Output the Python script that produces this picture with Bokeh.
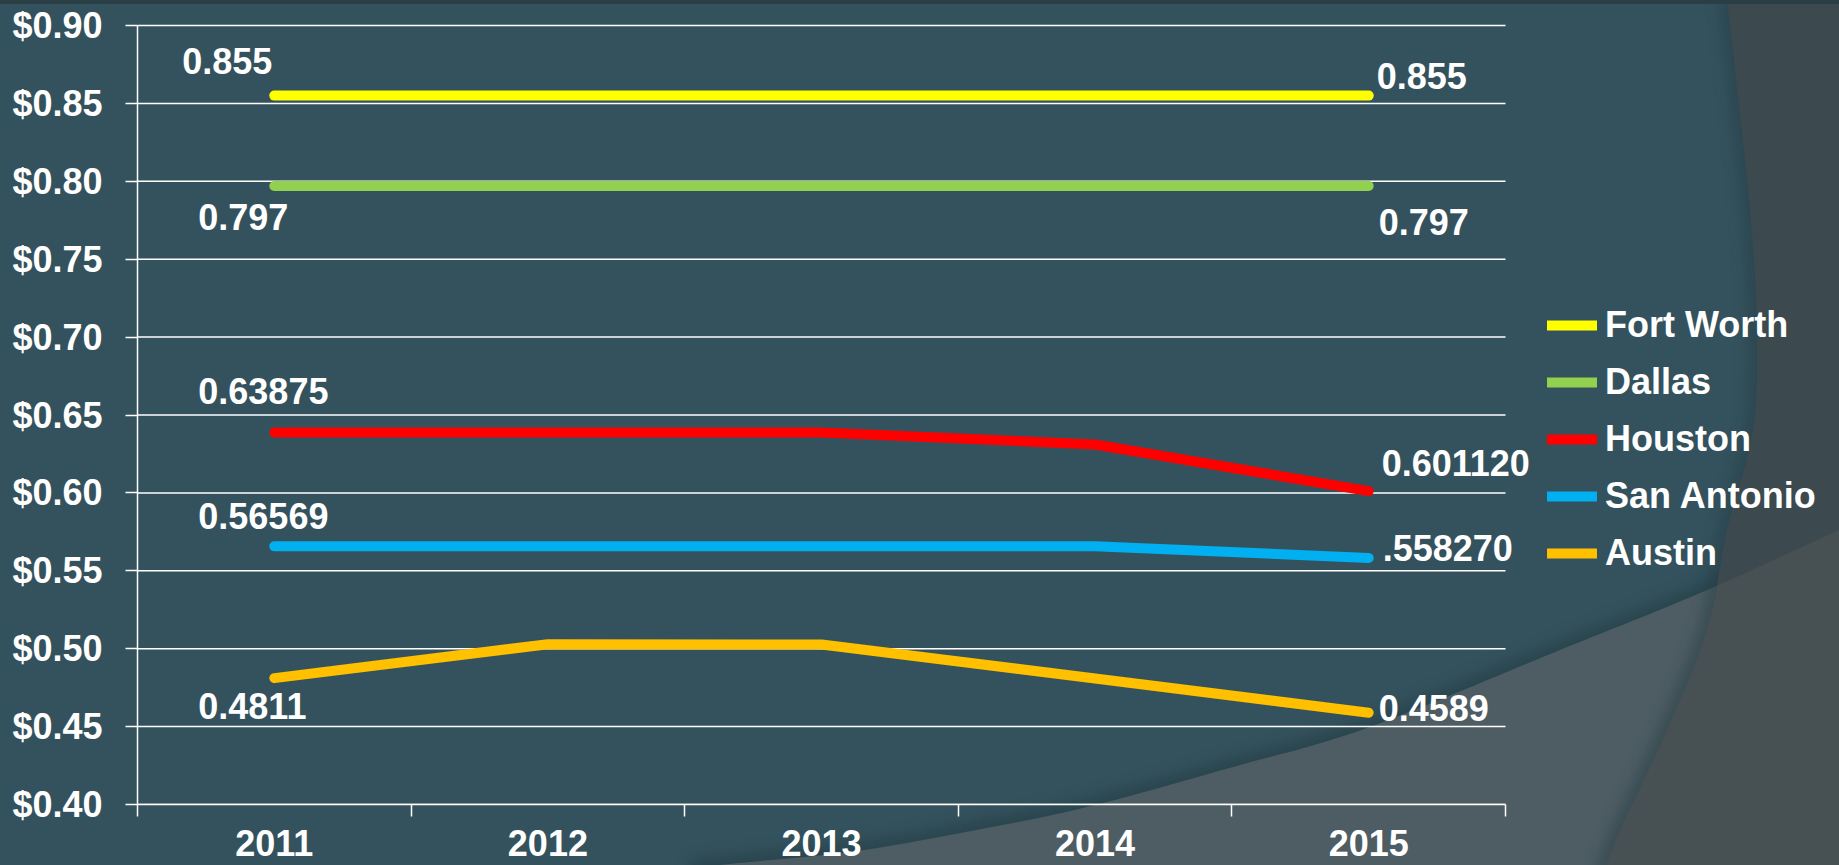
import urllib.parse
from bokeh.plotting import figure
from bokeh.models import (Range1d, FixedTicker, NumeralTickFormatter, LabelSet,
                          ColumnDataSource, GlobalInlineStyleSheet)
from bokeh.core.properties import value
from bokeh.embed import file_html
from bokeh.resources import INLINE

# ---------------- data ----------------
years = [2011, 2012, 2013, 2014, 2015]
x_labels = ["2011", "2012", "2013", "2014", "2015"]
fort_worth = [0.855, 0.855, 0.855, 0.855, 0.855]
dallas = [0.797, 0.797, 0.797, 0.797, 0.797]
houston = [0.63875, 0.63875, 0.63875, 0.63108, 0.60112]
san_antonio = [0.56569, 0.56569, 0.56569, 0.56569, 0.55827]
austin = [0.4811, 0.5029, 0.5027, 0.4809, 0.4589]
series_names = ["Fort Worth", "Dallas", "Houston", "San Antonio", "Austin"]
series_values = [fort_worth, dallas, houston, san_antonio, austin]
series_colors = ["#FFFF00", "#92D050", "#FF0000", "#00B0F0", "#FFC000"]
y_ticks = [0.40, 0.45, 0.50, 0.55, 0.60, 0.65, 0.70, 0.75, 0.80, 0.85, 0.90]
first_labels = ["0.855", "0.797", "0.63875", "0.56569", "0.4811"]
last_labels = ["0.855", "0.797", "0.601120", ".558270", "0.4589"]

# ---------------- layout (pixels) ----------------
W, H = 1839, 865
LEFT, TOP_GAP, BOTTOM = 137, 25, 61        # plot box: x 137..1505, y 25..804
PX_PER_YEAR, PX_PER_UNIT = 273.6, 1558.0
first_dx = [-92, -76, -76, -76, -76]
first_dy = [22, -44, 29, 17, -41]
last_dx = [8, 10, 13, 14, 10]
last_dy = [7, -49, 15, -3, -8]

FONT = "Liberation Sans"
WHITE = "#FFFFFF"

# ---------------- background decoration (page CSS) ----------------
def smooth(ps):
    d = f"M {ps[0][0]},{ps[0][1]}"
    for i in range(len(ps) - 1):
        p0 = ps[i - 1] if i > 0 else ps[i]
        p1, p2 = ps[i], ps[i + 1]
        p3 = ps[i + 2] if i + 2 < len(ps) else ps[i + 1]
        c1 = (p1[0] + (p2[0] - p0[0]) / 6, p1[1] + (p2[1] - p0[1]) / 6)
        c2 = (p2[0] - (p3[0] - p1[0]) / 6, p2[1] - (p3[1] - p1[1]) / 6)
        d += f" C {c1[0]:.1f},{c1[1]:.1f} {c2[0]:.1f},{c2[1]:.1f} {p2[0]},{p2[1]}"
    return d

curve = [(690, 868), (750, 862), (850, 852), (950, 835), (1083, 808), (1233, 767),
         (1367, 728), (1560, 650), (1700, 593), (1839, 530)]
right_edge = [(1727, 0), (1742, 133), (1752, 233), (1757, 333), (1753, 430),
              (1727, 530), (1707, 630), (1667, 730), (1620, 830), (1603, 875)]
c_path = smooth(curve)
r_path = smooth(right_edge)
light_d = c_path + " L 1845,875 L 690,875 Z"
right_d = r_path + " L 1845,875 L 1845,0 Z"
svg = (
    f'<svg xmlns="http://www.w3.org/2000/svg" width="{W}" height="{H}">'
    '<defs><filter id="b" x="-10%" y="-10%" width="120%" height="120%">'
    '<feGaussianBlur stdDeviation="7"/></filter>'
    f'<clipPath id="c"><path d="{light_d}"/></clipPath></defs>'
    f'<rect width="{W}" height="{H}" fill="#34525D"/>'
    f'<path d="{c_path}" fill="none" stroke="#223A43" stroke-width="18" opacity="0.55" filter="url(#b)"/>'
    f'<path d="{light_d}" fill="#4E5D63"/>'
    f'<path d="{r_path}" fill="none" stroke="#223A43" stroke-width="16" opacity="0.5" filter="url(#b)"/>'
    f'<path d="{right_d}" fill="#3C4A50"/>'
    f'<path d="{right_d}" fill="#475053" clip-path="url(#c)"/>'
    f'<rect width="{W}" height="4" fill="#2A3E46"/>'
    '</svg>'
)
css = ("html,body{margin:0;padding:0;overflow:hidden;background-color:#34525D;"
       f"background-image:url(\"data:image/svg+xml,{urllib.parse.quote(svg, safe='')}\");"
       "background-repeat:no-repeat;background-position:0 0;}")

# ---------------- figure ----------------
edges = [years[0] - 0.5] + [y + 0.5 for y in years]
frame_w = W - LEFT
frame_h = H - BOTTOM
x_end = edges[0] + frame_w / PX_PER_YEAR
y_end = y_ticks[-1] + TOP_GAP / PX_PER_UNIT

p = figure(frame_width=frame_w, frame_height=frame_h,
           x_range=Range1d(edges[0], x_end), y_range=Range1d(y_ticks[0], y_end),
           output_backend="svg", toolbar_location=None,
           min_border_left=LEFT, min_border_right=0,
           min_border_top=0, min_border_bottom=BOTTOM)
p.stylesheets = [GlobalInlineStyleSheet(css=css)]
p.background_fill_color = None
p.border_fill_color = None
p.outline_line_color = None

# x axis: labels at category centres, ticks at category edges
p.xaxis.ticker = FixedTicker(ticks=years, minor_ticks=edges)
p.xaxis.bounds = (edges[0], edges[-1])
p.xaxis.major_label_overrides = {y: l for y, l in zip(years, x_labels)}
p.xaxis.major_tick_out = 0
p.xaxis.major_tick_in = 0
p.xaxis.minor_tick_out = 12
p.xaxis.minor_tick_in = 0
p.xaxis.minor_tick_line_color = WHITE
p.xaxis.minor_tick_line_width = 1.5
p.xaxis.major_label_standoff = 13

p.yaxis.ticker = FixedTicker(ticks=y_ticks, minor_ticks=[])
p.yaxis.bounds = (y_ticks[0], y_ticks[-1])
p.yaxis.formatter = NumeralTickFormatter(format="$0.00")
p.yaxis.major_tick_out = 12
p.yaxis.major_tick_in = 0
p.yaxis.major_label_standoff = 23

for ax in (p.xaxis, p.yaxis):
    ax.axis_line_color = WHITE
    ax.axis_line_width = 1.5
    ax.major_tick_line_color = WHITE
    ax.major_tick_line_width = 1.5
    ax.major_label_text_color = WHITE
    ax.major_label_text_font = FONT
    ax.major_label_text_font_style = "bold"
    ax.major_label_text_font_size = "36px"

# horizontal gridlines limited to the category span
p.xgrid.grid_line_color = None
p.ygrid.grid_line_color = None
p.segment(x0=[edges[0]] * len(y_ticks), y0=y_ticks,
          x1=[edges[-1]] * len(y_ticks), y1=y_ticks,
          line_color=WHITE, line_width=1.5)

for name, vals, col in zip(series_names, series_values, series_colors):
    p.line(years, vals, line_color=col, line_width=10, line_cap="round",
           line_join="round", legend_label=name)

# data labels at first and last points
src_first = ColumnDataSource(dict(
    x=[years[0]] * len(series_values), y=[v[0] for v in series_values],
    text=first_labels, dx=first_dx, dy=first_dy))
src_last = ColumnDataSource(dict(
    x=[years[-1]] * len(series_values), y=[v[-1] for v in series_values],
    text=last_labels, dx=last_dx, dy=last_dy))
for src in (src_first, src_last):
    p.add_layout(LabelSet(x="x", y="y", text="text", source=src,
                          x_offset="dx", y_offset="dy",
                          text_align="left", text_baseline="alphabetic",
                          text_color=WHITE, text_font=value(FONT),
                          text_font_style="bold", text_font_size="36px"))

lg = p.legend[0]
lg.location = (1410, 226)
lg.orientation = "vertical"
lg.padding = 0
lg.margin = 0
lg.spacing = 7
lg.glyph_width = 50
lg.glyph_height = 50
lg.label_height = 50
lg.label_standoff = 8
lg.border_line_color = None
lg.background_fill_alpha = 0
lg.label_text_color = WHITE
lg.label_text_font = FONT
lg.label_text_font_style = "bold"
lg.label_text_font_size = "36px"

open("out.html", "w").write(file_html(p, INLINE))
